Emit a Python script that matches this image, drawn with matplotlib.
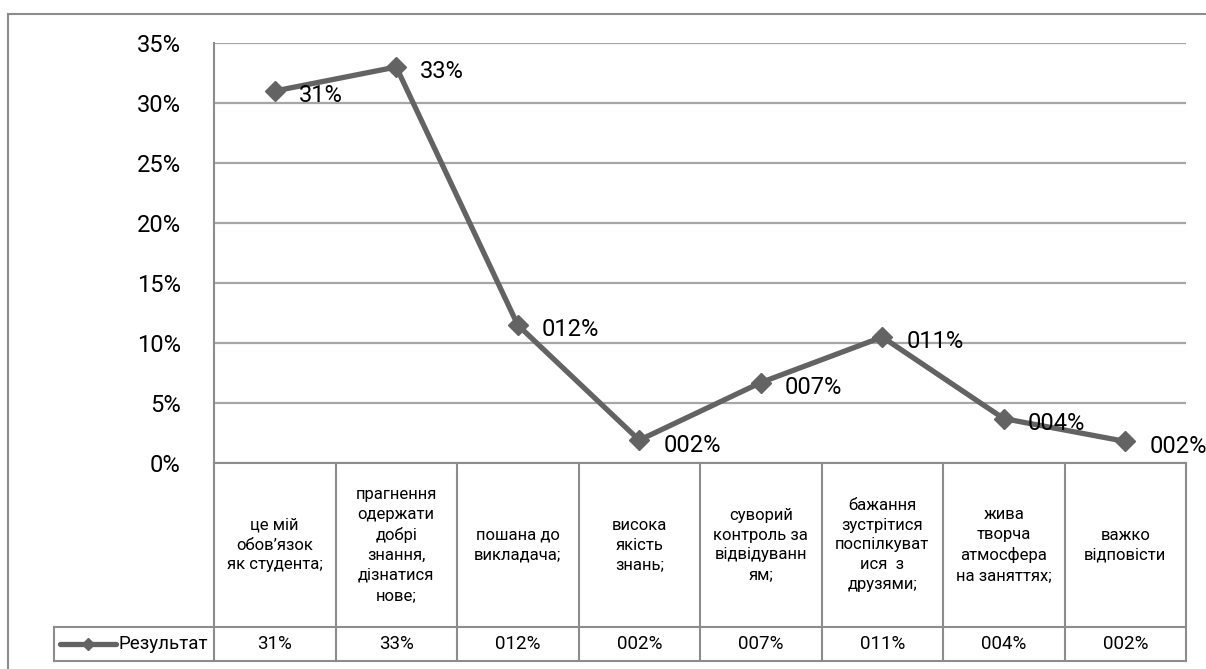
import matplotlib
matplotlib.use("Agg")
import matplotlib.pyplot as plt
import numpy as np
from matplotlib.lines import Line2D
from matplotlib import transforms

plt.rcParams['font.family'] = ['Roboto', 'DejaVu Sans']

categories = [
    "це мій\nобов’язок\nяк студента;",
    "прагнення\nодержати\nдобрі\nзнання,\nдізнатися\nнове;",
    "пошана до\nвикладача;",
    "висока\nякість\nзнань;",
    "суворий\nконтроль за\nвідвідуванн\nям;",
    "бажання\nзустрітися\nпоспілкуват\nися  з\nдрузями;",
    "жива\nтворча\nатмосфера\nна заняттях;",
    "важко\nвідповісти",
]
values = [0.310, 0.330, 0.115, 0.019, 0.067, 0.105, 0.037, 0.018]
value_labels = ["31%", "33%", "012%", "002%", "007%", "011%", "004%", "002%"]
series_name = "Результат"
yticks = [0, 0.05, 0.10, 0.15, 0.20, 0.25, 0.30, 0.35]
ytick_labels = ["0%", "5%", "10%", "15%", "20%", "25%", "30%", "35%"]

W, H = 1206, 669
fig = plt.figure(figsize=(W / 100, H / 100), dpi=100)
ax = fig.add_axes([214 / W, 1 - 463 / H, (1186 - 214) / W, (463 - 43) / H])

line_color = "#636363"
grid_color = "#a6a6a6"
border_color = "#8c8c8c"

n = len(values)
x = np.arange(n)
ax.set_xlim(-0.5, n - 0.5)
ax.set_ylim(0, 0.35)

for t in yticks:
    ax.axhline(t, color=grid_color, lw=1.6, zorder=1)

ax.set_yticks(yticks)
ax.set_yticklabels(ytick_labels, fontsize=17)
ax.tick_params(axis='y', length=0, pad=24)
ax.set_xticks([])
for s in ['top', 'right', 'bottom']:
    ax.spines[s].set_visible(False)
ax.spines['left'].set_color(border_color)
ax.spines['left'].set_linewidth(1.5)

ax.plot(x, values, color=line_color, lw=3.8, marker='D', markersize=10,
        zorder=4, clip_on=False, solid_joinstyle='round')

for xi, v, lab in zip(x, values, value_labels):
    ax.annotate(lab, (xi, v), xytext=(24, -5), textcoords='offset pixels',
                ha='left', va='center', fontsize=17, color='black',
                zorder=5, annotation_clip=False)

# data table
trans = transforms.blended_transform_factory(ax.transData, ax.transAxes)
px = 1.0 / (463 - 43)
y_hdr_bot = -(627 - 463) * px
y_tbl_bot = -(661 - 463) * px
leg_left = -0.5 - (214 - 54) / 121.5

def tline(xs, ys):
    ax.add_line(Line2D(xs, ys, transform=trans, color=border_color, lw=1.5,
                       clip_on=False, zorder=2))

tline([-0.5, n - 0.5], [0, 0])
tline([leg_left, n - 0.5], [y_hdr_bot, y_hdr_bot])
tline([leg_left, n - 0.5], [y_tbl_bot, y_tbl_bot])
for b in np.arange(n + 1) - 0.5:
    tline([b, b], [0, y_tbl_bot])
tline([leg_left, leg_left], [y_hdr_bot, y_tbl_bot])

y_hdr_mid = y_hdr_bot / 2
y_val_mid = (y_hdr_bot + y_tbl_bot) / 2
for xi, cat, lab in zip(x, categories, value_labels):
    ax.text(xi, y_hdr_mid, cat, transform=trans, ha='center', va='center',
            fontsize=12, linespacing=1.4, clip_on=False)
    ax.text(xi, y_val_mid, lab, transform=trans, ha='center', va='center',
            fontsize=13.5, clip_on=False)

# legend key in table
lx0 = leg_left + (60 - 54) / 121.5
lx1 = leg_left + (116 - 54) / 121.5
ax.add_line(Line2D([lx0, lx1], [y_val_mid, y_val_mid], transform=trans,
                   color=line_color, lw=3.8, clip_on=False, solid_capstyle='round'))
ax.add_line(Line2D([(lx0 + lx1) / 2], [y_val_mid], transform=trans,
                   color=line_color, marker='D', markersize=6, clip_on=False))
ax.text(leg_left + (118 - 54) / 121.5, y_val_mid, series_name, transform=trans,
        ha='left', va='center', fontsize=13.5, clip_on=False)

# outer chart frame
fig.add_artist(Line2D([8 / W, 1.0], [1 - 14 / H, 1 - 14 / H], transform=fig.transFigure,
                      color=border_color, lw=1.5))
fig.add_artist(Line2D([8 / W, 8 / W], [1 - 14 / H, 0], transform=fig.transFigure,
                      color=border_color, lw=1.5))

fig.savefig("out.png", dpi=100, facecolor='white')
